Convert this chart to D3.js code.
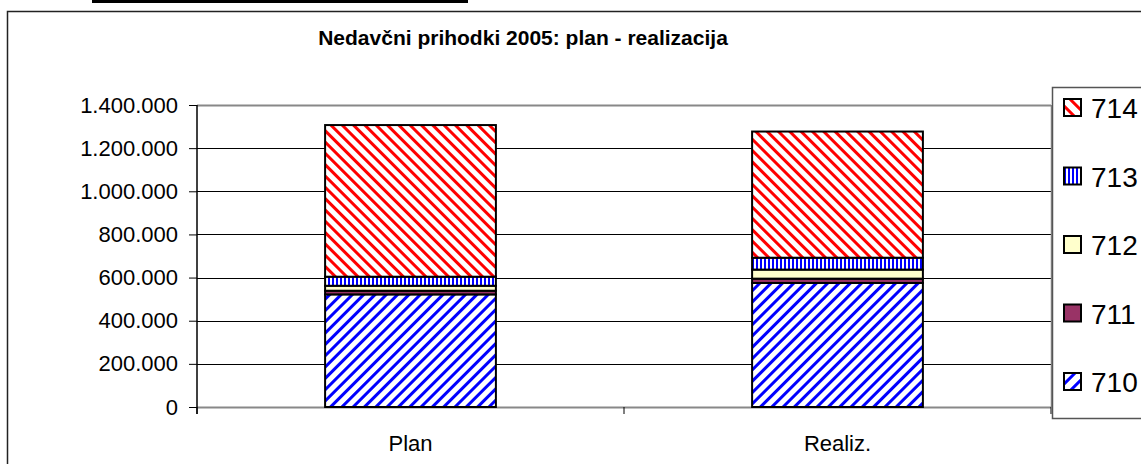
<!DOCTYPE html>
<html>
<head>
<meta charset="utf-8">
<script src="https://cdn.jsdelivr.net/npm/d3@7"></script>
<style>
  body { margin: 0; background: #fff; }
  svg { display: block; font-family: Arial, 'Liberation Sans', sans-serif; }
</style>
</head>
<body>
<div id="vis"></div>
<script>
// Podatki (odčitano s slike)
const categories = ['Plan', 'Realiz.'];
const seriesNames = ['710', '711', '712', '713', '714'];
const values710 = [522000, 575000];
const values711 = [17000, 20000];
const values712 = [23000, 42000];
const values713 = [42000, 55000];
const values714 = [703000, 585000];
const yTicks = [0, 200000, 400000, 600000, 800000, 1000000, 1200000, 1400000];
const titleText = 'Nedavčni prihodki 2005: plan - realizacija';

const WIDTH_VIS = 1141;
const HEIGHT_VIS = 464;

const PLOT = { left: 197, right: 1051, top: 105, bottom: 407 };

const SVG = d3.select('#vis').append('svg')
  .attr('width', WIDTH_VIS)
  .attr('height', HEIGHT_VIS);

const defs = SVG.append('defs');

function main() {
  makePatterns();
  drawFrame();
  const { x, y } = makeScales();
  drawGrid(y);
  drawBars(x, y);
  drawAxes(x, y);
  drawLegend();
}

function makePatterns() {
  // 710 - modre diagonale "/"
  const p710 = defs.append('pattern')
    .attr('id', 'pat710')
    .attr('patternUnits', 'userSpaceOnUse')
    .attr('width', 8).attr('height', 8)
    .attr('patternTransform', 'rotate(45)');
  p710.append('rect').attr('width', 8).attr('height', 8).attr('fill', '#fff');
  p710.append('rect').attr('x', 0).attr('width', 3).attr('height', 8).attr('fill', '#0000ff');

  // 714 - rdeče diagonale "\"
  const p714 = defs.append('pattern')
    .attr('id', 'pat714')
    .attr('patternUnits', 'userSpaceOnUse')
    .attr('width', 8).attr('height', 8)
    .attr('patternTransform', 'rotate(-45)');
  p714.append('rect').attr('width', 8).attr('height', 8).attr('fill', '#fff');
  p714.append('rect').attr('x', 0).attr('width', 3).attr('height', 8).attr('fill', '#ff0000');

  // 713 - navpične modre črte
  const p713 = defs.append('pattern')
    .attr('id', 'pat713')
    .attr('patternUnits', 'userSpaceOnUse')
    .attr('width', 4).attr('height', 4);
  p713.append('rect').attr('width', 4).attr('height', 4).attr('fill', '#fff');
  p713.append('rect').attr('width', 2).attr('height', 4).attr('fill', '#0000ff');

  // legenda - večji vzorci v kvadratkih
  const l710 = defs.append('pattern')
    .attr('id', 'leg710')
    .attr('patternUnits', 'userSpaceOnUse')
    .attr('width', 9).attr('height', 9)
    .attr('patternTransform', 'rotate(45)');
  l710.append('rect').attr('width', 9).attr('height', 9).attr('fill', '#fff');
  l710.append('rect').attr('width', 3).attr('height', 9).attr('fill', '#0000ff');

  const l714 = defs.append('pattern')
    .attr('id', 'leg714')
    .attr('patternUnits', 'userSpaceOnUse')
    .attr('width', 9).attr('height', 9)
    .attr('patternTransform', 'rotate(-45)');
  l714.append('rect').attr('width', 9).attr('height', 9).attr('fill', '#fff');
  l714.append('rect').attr('width', 3).attr('height', 9).attr('fill', '#ff0000');
}

const fills = {
  '710': 'url(#pat710)',
  '711': '#993366',
  '712': '#ffffcc',
  '713': 'url(#pat713)',
  '714': 'url(#pat714)',
};

const legendFills = {
  '710': 'url(#leg710)',
  '711': '#993366',
  '712': '#ffffcc',
  '713': 'url(#pat713)',
  '714': 'url(#leg714)',
};

function drawFrame() {
  // črta na vrhu
  SVG.append('rect')
    .attr('x', 92).attr('y', 0)
    .attr('width', 376).attr('height', 3)
    .attr('fill', '#000');

  // okvir grafikona
  SVG.append('path')
    .attr('d', `M7.5,${HEIGHT_VIS + 5} V11.5 H${WIDTH_VIS + 5}`)
    .attr('fill', 'none')
    .attr('stroke', '#222')
    .attr('stroke-width', 1.5);

  SVG.append('text')
    .attr('x', 523)
    .attr('y', 45)
    .attr('text-anchor', 'middle')
    .attr('font-size', 21)
    .attr('font-weight', 'bold')
    .text(titleText);
}

function makeScales() {
  const x = d3.scaleBand()
    .domain(categories)
    .range([PLOT.left, PLOT.right])
    .paddingInner(0.6)
    .paddingOuter(0.3);
  const y = d3.scaleLinear()
    .domain([0, 1400000])
    .range([PLOT.bottom, PLOT.top]);
  return { x, y };
}

function drawGrid(y) {
  SVG.append('g')
    .selectAll('line')
    .data(yTicks)
    .join('line')
    .attr('x1', PLOT.left)
    .attr('x2', PLOT.right)
    .attr('y1', (d) => Math.round(y(d)) + 0.5)
    .attr('y2', (d) => Math.round(y(d)) + 0.5)
    .attr('stroke', (d) => (d === 0 || d === 1400000 ? '#888' : '#000'))
    .attr('stroke-width', (d) => (d === 0 || d === 1400000 ? 2 : 1));

  // desni rob risalne površine
  SVG.append('line')
    .attr('x1', PLOT.right + 0.5).attr('x2', PLOT.right + 0.5)
    .attr('y1', PLOT.top).attr('y2', PLOT.bottom)
    .attr('stroke', '#888')
    .attr('stroke-width', 1.5);
}

function drawBars(x, y) {
  const table = categories.map((c, i) => ({
    cat: c,
    '710': values710[i],
    '711': values711[i],
    '712': values712[i],
    '713': values713[i],
    '714': values714[i],
  }));
  const stacked = d3.stack().keys(seriesNames)(table);

  const g = SVG.append('g');
  stacked.forEach((layer) => {
    g.selectAll(null)
      .data(layer)
      .join('rect')
      .attr('x', (d) => x(d.data.cat))
      .attr('y', (d) => y(d[1]))
      .attr('width', x.bandwidth())
      .attr('height', (d) => y(d[0]) - y(d[1]))
      .attr('fill', fills[layer.key])
      .attr('stroke', '#000')
      .attr('stroke-width', 2);
  });
}

function drawAxes(x, y) {
  const fmt = (d) => d3.format(',')(d).replace(/,/g, '.');

  const yAxis = SVG.append('g')
    .attr('transform', `translate(${PLOT.left},0)`)
    .call(d3.axisLeft(y).tickValues(yTicks).tickFormat(fmt).tickSize(8).tickPadding(11));
  yAxis.select('.domain').attr('stroke', '#000').attr('stroke-width', 1.5)
    .attr('d', `M0,${PLOT.top}V${PLOT.bottom + 7}`);
  yAxis.selectAll('text').attr('font-size', 22).attr('fill', '#000')
    .attr('font-family', 'Arial, Liberation Sans, sans-serif');

  // kategorijska os
  const xAxis = SVG.append('g')
    .attr('transform', `translate(0,${PLOT.bottom})`);
  const tickX = [PLOT.left, PLOT.left + (PLOT.right - PLOT.left) / 2, PLOT.right];
  xAxis.selectAll('line')
    .data(tickX)
    .join('line')
    .attr('x1', (d) => d).attr('x2', (d) => d)
    .attr('y1', 0).attr('y2', 7)
    .attr('stroke', '#000');
  xAxis.selectAll('text')
    .data(categories)
    .join('text')
    .attr('x', (d) => x(d) + x.bandwidth() / 2)
    .attr('y', 44)
    .attr('text-anchor', 'middle')
    .attr('font-size', 22)
    .text((d) => d);
}

function drawLegend() {
  const lg = SVG.append('g');
  lg.append('path')
    .attr('d', `M${WIDTH_VIS + 5},87.5 H1052.5 V418.5 H${WIDTH_VIS + 5}`)
    .attr('fill', '#fff')
    .attr('stroke', '#555')
    .attr('stroke-width', 1.5);

  const order = seriesNames.slice().reverse();
  const ly = d3.scalePoint().domain(order).range([108, 382]);

  const items = lg.selectAll('g.item')
    .data(order)
    .join('g')
    .attr('class', 'item')
    .attr('transform', (d) => `translate(1064,${ly(d)})`);
  items.append('rect')
    .attr('x', 0).attr('y', -9)
    .attr('width', 17).attr('height', 17)
    .attr('fill', (d) => legendFills[d])
    .attr('stroke', '#000')
    .attr('stroke-width', 2);
  items.append('text')
    .attr('x', 27)
    .attr('y', 10)
    .attr('font-size', 28)
    .text((d) => d);
}

main();
</script>
</body>
</html>
